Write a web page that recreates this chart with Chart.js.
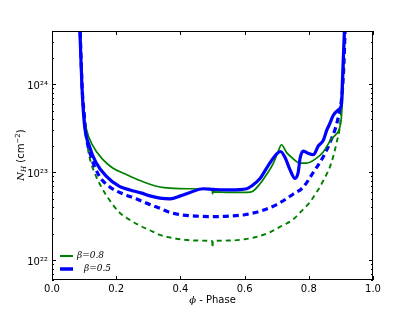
<!DOCTYPE html>
<html><head><meta charset="utf-8">
<script src="https://cdn.jsdelivr.net/npm/chart.js@4.4.0/dist/chart.umd.min.js"></script>
<style>html,body{margin:0;padding:0;background:#fff}canvas{display:block}</style>
</head><body>
<canvas id="c" width="415" height="312"></canvas>
<script>
// ---- tick labels / categories ----
const xTicks = [0, 0.2, 0.4, 0.6, 0.8, 1.0];
const yTicks = [1e22, 1e23, 1e24];
const yTickLabels = ['10²²', '10²³', '10²⁴'];
const seriesLabels = ['β=0.8', 'β=0.5'];
const xTitleMath = 'ϕ';
const xTitleText = ' - Phase';

// ---- beta = 0.8, solid ----
const b08SolidPhase = [0.087, 0.093, 0.100, 0.106, 0.127, 0.158, 0.189, 0.230, 0.272, 0.305, 0.336, 0.368, 0.430, 0.499, 0.500, 0.502, 0.555, 0.607, 0.626, 0.648, 0.669, 0.689, 0.704, 0.715, 0.731, 0.747, 0.773, 0.793, 0.819, 0.845, 0.871, 0.885, 0.895, 0.902, 0.907, 0.913];
const b08SolidNH    = [5e24, 1e24, 4.5e23, 3.2e23, 2.0e23, 1.4e23, 1.12e23, 9.5e22, 8.1e22, 7.3e22, 6.8e22, 6.6e22, 6.5e22, 6.4e22, 5.7e22, 6.0e22, 5.9e22, 5.9e22, 6.1e22, 7.4e22, 9.5e22, 1.25e23, 1.7e23, 2.05e23, 1.67e23, 1.47e23, 1.27e23, 1.27e23, 1.4e23, 1.7e23, 2.4e23, 2.7e23, 3.1e23, 4.4e23, 1.1e24, 5e24];

// ---- beta = 0.8, dashed ----
const b08DashPhase = [0.087, 0.0935, 0.1006, 0.106, 0.116, 0.132, 0.153, 0.178, 0.210, 0.241, 0.272, 0.305, 0.336, 0.368, 0.400, 0.450, 0.499, 0.500, 0.501, 0.550, 0.600, 0.640, 0.680, 0.710, 0.750, 0.773, 0.804, 0.814, 0.845, 0.871, 0.887, 0.897, 0.902, 0.907, 0.913];
const b08DashNH    = [5e24, 8e23, 4e23, 2.6e23, 1.53e23, 1.0e23, 6.9e22, 4.9e22, 3.5e22, 2.9e22, 2.5e22, 2.2e22, 1.95e22, 1.82e22, 1.74e22, 1.68e22, 1.66e22, 1.4e22, 1.66e22, 1.68e22, 1.74e22, 1.86e22, 2.1e22, 2.4e22, 2.9e22, 3.5e22, 4.6e22, 5.2e22, 8e22, 1.3e23, 2.2e23, 3.4e23, 6e23, 1.2e24, 5e24];

// ---- beta = 0.5, solid ----
const b05SolidPhase = [0.086, 0.093, 0.1006, 0.116, 0.137, 0.168, 0.210, 0.243, 0.280, 0.305, 0.336, 0.368, 0.400, 0.430, 0.471, 0.502, 0.555, 0.607, 0.622, 0.648, 0.674, 0.700, 0.712, 0.726, 0.741, 0.757, 0.767, 0.773, 0.783, 0.799, 0.814, 0.830, 0.845, 0.856, 0.866, 0.876, 0.895, 0.902, 0.905, 0.912];
const b05SolidNH    = [5e24, 1e24, 3.6e23, 2.0e23, 1.29e23, 9.1e22, 6.9e22, 6.3e22, 5.8e22, 5.4e22, 5.1e22, 5.0e22, 5.4e22, 5.9e22, 6.5e22, 6.4e22, 6.3e22, 6.5e22, 7.0e22, 8.5e22, 1.2e23, 1.62e23, 1.72e23, 1.47e23, 1.08e23, 8.5e22, 1.0e23, 1.45e23, 1.74e23, 1.63e23, 1.58e23, 2.0e23, 2.3e23, 3.0e23, 3.6e23, 4.4e23, 5.2e23, 6e23, 1.15e24, 5e24];

// ---- beta = 0.5, dashed ----
const b05DashPhase = [0.087, 0.094, 0.1006, 0.106, 0.121, 0.147, 0.178, 0.220, 0.262, 0.305, 0.336, 0.368, 0.400, 0.450, 0.500, 0.550, 0.600, 0.657, 0.700, 0.750, 0.783, 0.814, 0.845, 0.871, 0.889, 0.902, 0.908, 0.914];
const b05DashNH    = [5e24, 9e23, 4.5e23, 2.7e23, 1.53e23, 9.1e22, 6.9e22, 5.7e22, 5.0e22, 4.3e22, 3.9e22, 3.5e22, 3.3e22, 3.18e22, 3.14e22, 3.18e22, 3.3e22, 3.7e22, 4.3e22, 5.6e22, 6.8e22, 1.0e23, 1.5e23, 2.4e23, 3.8e23, 6.8e23, 1.3e24, 5e24];

const GREEN = '#008000', BLUE = '#0000ff';
const pts = (xs, ys) => xs.map((x, i) => ({x, y: ys[i]}));

const base = {pointRadius: 0, fill: false, cubicInterpolationMode: 'monotone', clip: 0};
const datasets = [
  Object.assign({label: seriesLabels[0], data: pts(b08SolidPhase, b08SolidNH), borderColor: GREEN, borderWidth: 1.7, order: 2}, base),
  Object.assign({label: seriesLabels[1], data: pts(b05SolidPhase, b05SolidNH), borderColor: BLUE, borderWidth: 3.2, order: 1}, base),
  Object.assign({label: seriesLabels[0] + ' dashed', data: pts(b08DashPhase, b08DashNH), borderColor: GREEN, borderWidth: 1.9, borderDash: [5, 4], order: 4}, base),
  Object.assign({label: seriesLabels[1] + ' dashed', data: pts(b05DashPhase, b05DashNH), borderColor: BLUE, borderWidth: 3.2, borderDash: [6, 4], order: 3}, base)
];

const decor = {
  id: 'decor',
  afterDraw(chart) {
    const {ctx, chartArea: a, scales: {x, y}} = chart;
    ctx.save();
    ctx.strokeStyle = '#000';
    ctx.lineWidth = 1;
    ctx.beginPath();
    xTicks.forEach(v => {
      const p = Math.round(x.getPixelForValue(v)) + 0.5;
      ctx.moveTo(p, a.bottom); ctx.lineTo(p, a.bottom - 4);
      ctx.moveTo(p, a.top); ctx.lineTo(p, a.top + 4);
    });
    for (let e = 21; e <= 24; e++) {
      for (let k = 1; k < 10; k++) {
        const v = k * Math.pow(10, e);
        if (v < y.min || v > y.max) continue;
        const p = Math.round(y.getPixelForValue(v)) + 0.5;
        const L = k === 1 ? 4 : 2;
        ctx.moveTo(a.left, p); ctx.lineTo(a.left + L, p);
        ctx.moveTo(a.right, p); ctx.lineTo(a.right - L, p);
      }
    }
    ctx.stroke();
    ctx.strokeRect(Math.round(a.left) + 0.5, Math.round(a.top) + 0.5, Math.round(a.width) - 1, Math.round(a.height) - 1);

    // legend (inside, lower left)
    const leg = [
      {c: GREEN, w: 2, y: 256, tx: 77, label: chart.data.datasets[0].label},
      {c: BLUE, w: 3.5, y: 269, tx: 84, label: chart.data.datasets[1].label}
    ];
    leg.forEach(it => {
      ctx.beginPath();
      ctx.strokeStyle = it.c; ctx.lineWidth = it.w;
      ctx.moveTo(60, it.y); ctx.lineTo(73, it.y); ctx.stroke();
      ctx.fillStyle = '#000';
      ctx.font = 'italic 9px "DejaVu Serif"';
      ctx.textBaseline = 'middle';
      ctx.textAlign = 'left';
      ctx.fillText(it.label, it.tx, it.y);
    });

    // x-axis title
    ctx.textBaseline = 'middle';
    ctx.font = 'italic 10px "DejaVu Serif"';
    const w1 = ctx.measureText(xTitleMath).width;
    ctx.font = '10px "DejaVu Sans"';
    const w2 = ctx.measureText(xTitleText).width;
    const cx = (a.left + a.right) / 2;
    let sx = cx - (w1 + w2) / 2;
    ctx.textAlign = 'left';
    ctx.font = 'italic 10px "DejaVu Serif"';
    ctx.fillText(xTitleMath, sx, 300);
    ctx.font = '10px "DejaVu Sans"';
    ctx.fillText(xTitleText, sx + w1, 300);

    // y-axis title: N_H (cm^-2)
    ctx.translate(20, 155);
    ctx.rotate(-Math.PI / 2);
    const parts = [
      {t: 'N', f: 'italic 10px "DejaVu Serif"', dy: 0},
      {t: 'H', f: 'italic 7px "DejaVu Serif"', dy: 2},
      {t: ' (cm', f: '10px "DejaVu Sans"', dy: 0},
      {t: '−2', f: '7px "DejaVu Sans"', dy: -4},
      {t: ')', f: '10px "DejaVu Sans"', dy: 0}
    ];
    let tw = 0;
    parts.forEach(p => { ctx.font = p.f; p.w = ctx.measureText(p.t).width; tw += p.w; });
    let px = -tw / 2;
    ctx.textBaseline = 'alphabetic';
    parts.forEach(p => { ctx.font = p.f; ctx.fillText(p.t, px, 3.5 + p.dy); px += p.w; });
    ctx.restore();
  }
};

Chart.defaults.color = '#000';
Chart.defaults.font.family = '"DejaVu Sans", sans-serif';
Chart.defaults.font.size = 10;

new Chart(document.getElementById('c'), {
  type: 'line',
  data: {datasets},
  options: {
    responsive: false,
    animation: false,
    devicePixelRatio: 1,
    layout: {padding: {left: 0, right: 42, top: 31, bottom: 0}},
    plugins: {legend: {display: false}, tooltip: {enabled: false}},
    scales: {
      x: {
        type: 'linear', min: 0, max: 1,
        grid: {display: false, drawTicks: false},
        border: {display: false},
        ticks: {stepSize: 0.2, padding: 3, callback: v => v.toFixed(1), font: {size: 10}},
        afterBuildTicks: s => { s.ticks = xTicks.map(v => ({value: v})); },
        afterFit: s => { s.height = 32; }
      },
      y: {
        type: 'logarithmic', min: 6e21, max: 4e24,
        grid: {display: false, drawTicks: false},
        border: {display: false},
        ticks: {padding: 4, labelOffset: 2, font: {size: 10},
          callback: v => { const i = yTicks.indexOf(v); return i >= 0 ? yTickLabels[i] : ''; }},
        afterBuildTicks: s => { s.ticks = yTicks.map(v => ({value: v})); },
        afterFit: s => { s.width = 52; }
      }
    }
  },
  plugins: [decor]
});
</script>
</body></html>
